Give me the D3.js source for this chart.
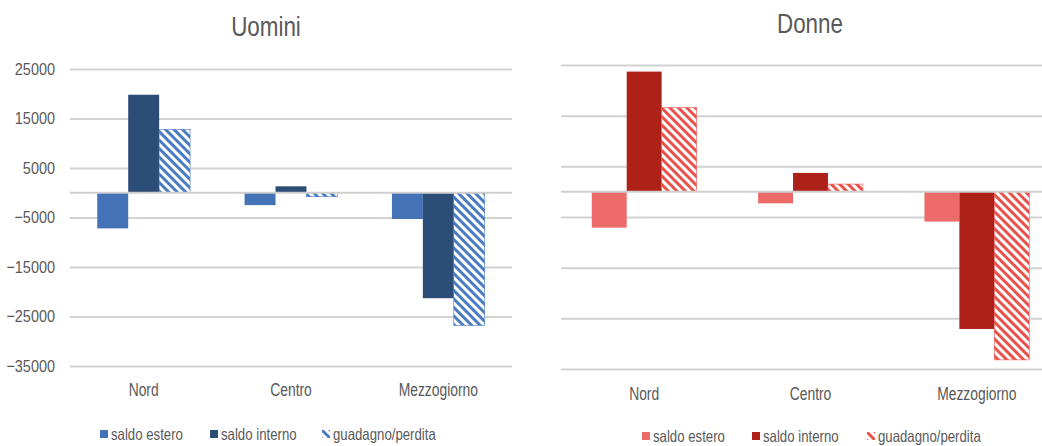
<!DOCTYPE html>
<html>
<head>
<meta charset="utf-8">
<script src="https://cdn.jsdelivr.net/npm/d3@7"></script>
<style>
  html, body { margin: 0; padding: 0; background: #fff; }
  svg { display: block; }
  text { font-family: "Liberation Sans", Arial, sans-serif; fill: #595959; }
</style>
</head>
<body>
<svg id="chart" width="1042" height="446"></svg>
<script>
// ---- data ----
const categories = ["Nord", "Centro", "Mezzogiorno"];
const seriesNames = ["saldo estero", "saldo interno", "guadagno/perdita"];
const yTickValues = [25000, 15000, 5000, -5000, -15000, -25000, -35000];

const uominiEstero   = [-7200, -2500, -5300];
const uominiInterno  = [19800, 1300, -21300];
const uominiGuadagno = [12800, -800, -26800];

const donneEstero    = [-7100, -2300, -5900];
const donneInterno   = [23700, 3700, -27100];
const donneGuadagno  = [16600, 1500, -33200];

const titles = ["Uomini", "Donne"];

// ---- drawing ----
const svg = d3.select("#chart");
const defs = svg.append("defs");

// narrow the text horizontally (the reference uses a condensed face)
function condense(sel, f) {
  sel.each(function () {
    const w = this.getComputedTextLength();
    d3.select(this).attr("textLength", w * f).attr("lengthAdjust", "spacingAndGlyphs");
  });
}

function makePattern(id, color) {
  const p = defs.append("pattern")
    .attr("id", id)
    .attr("patternUnits", "userSpaceOnUse")
    .attr("width", 6).attr("height", 6)
    .attr("patternTransform", "rotate(-45)");
  p.append("rect").attr("width", 6).attr("height", 6).attr("fill", "#fff");
  p.append("rect").attr("width", 3).attr("height", 6).attr("fill", color);
}
makePattern("stripeBlue", "#4a7cc2");
makePattern("stripeRed", "#e9524b");

const panels = [
  {
    title: titles[0], titleX: 266, titleY: 36,
    x0: 70, x1: 512, xr1: 512, yTop: 69, yBot: 366, showY: true,
    catY: 383, legendY: 434, legendX: [100, 210, 322],
    values: [uominiEstero, uominiInterno, uominiGuadagno],
    fills: ["#4373b6", "#2c4d78", "url(#stripeBlue)"],
    strokes: ["none", "none", "#4a7cc2"]
  },
  {
    title: titles[1], titleX: 810, titleY: 33,
    x0: 561, x1: 1060, xr1: 1060, yTop: 65, yBot: 369, showY: false,
    catY: 387, legendY: 436, legendX: [642, 752, 867],
    values: [donneEstero, donneInterno, donneGuadagno],
    fills: ["#ec6b68", "#ad2118", "url(#stripeRed)"],
    strokes: ["none", "none", "#e9524b"]
  }
];

panels.forEach(P => {
  const g = svg.append("g");
  const y = d3.scaleLinear().domain([-35000, 25000]).range([P.yBot, P.yTop]);
  const x = d3.scaleBand().domain(categories).range([P.x0, P.x1])
    .paddingInner(0.37).paddingOuter(0.185);
  const xs = d3.scaleBand().domain(seriesNames).range([0, x.bandwidth()]);

  // title
  g.append("text")
    .attr("x", P.titleX).attr("y", P.titleY)
    .attr("text-anchor", "middle")
    .style("font-size", "28px")
    .text(P.title)
    .call(condense, 0.8);

  // gridlines + tick labels
  const yAxis = d3.axisLeft(y)
    .tickValues(yTickValues)
    .tickSize(-(P.xr1 - P.x0))
    .tickPadding(15)
    .tickFormat(P.showY ? d3.format("d") : () => "");
  const ag = g.append("g").attr("transform", `translate(${P.x0},0)`).call(yAxis);
  ag.select(".domain").remove();
  ag.selectAll(".tick line").attr("stroke", "#d2d2d2").attr("stroke-width", 2);
  ag.selectAll(".tick text").style("font-size", "17px").attr("fill", "#595959")
    .style("font-family", "'Liberation Sans', Arial, sans-serif")
    .call(condense, 0.85);

  // bars
  P.values.forEach((vals, si) => {
    g.append("g").selectAll("rect")
      .data(vals.map((v, i) => ({ cat: categories[i], v })))
      .join("rect")
      .attr("x", d => x(d.cat) + xs(seriesNames[si]))
      .attr("width", xs.bandwidth())
      .attr("y", d => y(Math.max(0, d.v)))
      .attr("height", d => Math.abs(y(d.v) - y(0)))
      .attr("fill", P.fills[si])
      .attr("stroke", P.strokes[si])
      .attr("stroke-width", 0.6);
  });

  // zero axis line
  g.append("line")
    .attr("x1", P.x0).attr("x2", P.xr1)
    .attr("y1", y(0)).attr("y2", y(0))
    .attr("stroke", "#cfcfcf").attr("stroke-width", 2);

  // category labels
  const xAxis = d3.axisBottom(x).tickSize(0).tickPadding(0);
  const cg = g.append("g").attr("transform", `translate(0,${P.catY})`).call(xAxis);
  cg.select(".domain").remove();
  cg.selectAll(".tick text").style("font-size", "18px").attr("fill", "#595959")
    .style("font-family", "'Liberation Sans', Arial, sans-serif")
    .call(condense, 0.77);

  // legend
  seriesNames.forEach((name, si) => {
    const lx = P.legendX[si];
    g.append("rect")
      .attr("x", lx).attr("y", P.legendY - 4)
      .attr("width", 8).attr("height", 8)
      .attr("fill", P.fills[si]);
    g.append("text")
      .attr("x", lx + 11).attr("y", P.legendY)
      .attr("dy", "0.35em")
      .style("font-size", "16.5px")
      .text(name)
      .call(condense, 0.8);
  });
});
</script>
</body>
</html>
